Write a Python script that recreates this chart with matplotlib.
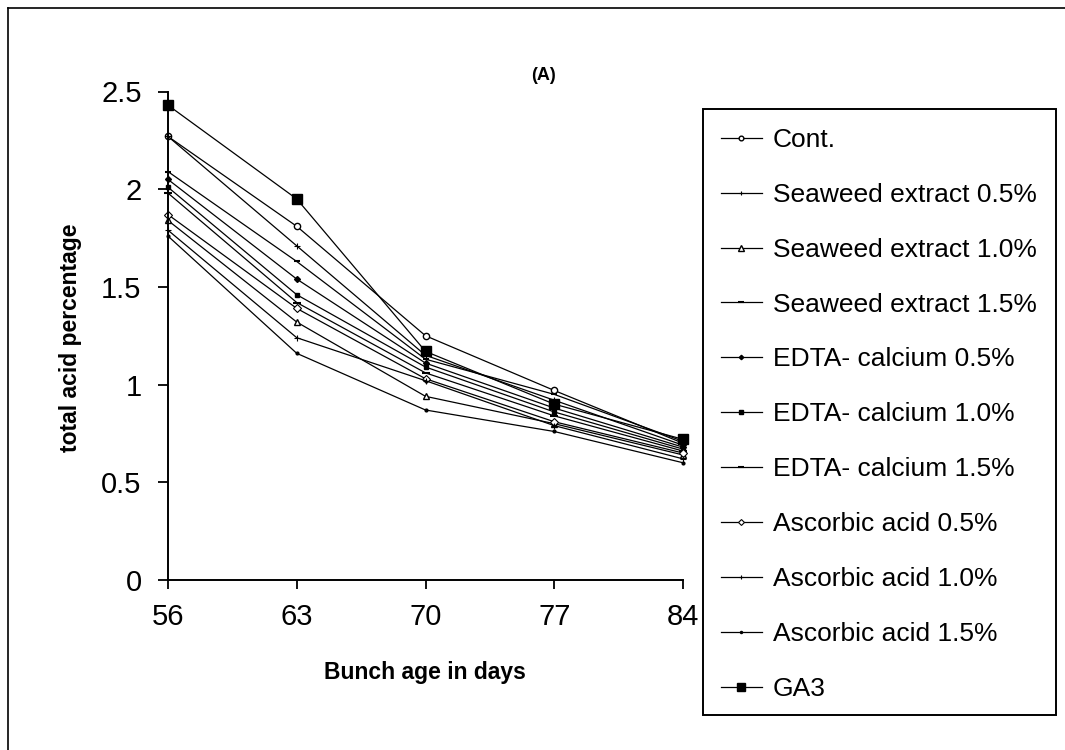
import matplotlib
matplotlib.use("Agg")
import matplotlib.pyplot as plt
from matplotlib.lines import Line2D
from matplotlib.patches import Rectangle

plt.rcParams['font.family'] = ['Liberation Sans', 'DejaVu Sans']

days = [56, 63, 70, 77, 84]
x_ticks = [56, 63, 70, 77, 84]
y_ticks = [0, 0.5, 1, 1.5, 2, 2.5]
y_tick_labels = ["0", "0.5", "1", "1.5", "2", "2.5"]

series_names = [
    "Cont.",
    "Seaweed extract 0.5%",
    "Seaweed extract 1.0%",
    "Seaweed extract 1.5%",
    "EDTA- calcium 0.5%",
    "EDTA- calcium 1.0%",
    "EDTA- calcium 1.5%",
    "Ascorbic acid 0.5%",
    "Ascorbic acid 1.0%",
    "Ascorbic acid 1.5%",
    "GA3",
]

cont = [2.27, 1.81, 1.25, 0.97, 0.70]
seaweed_05 = [2.27, 1.71, 1.15, 0.92, 0.69]
seaweed_10 = [1.84, 1.32, 0.94, 0.80, 0.64]
seaweed_15 = [2.09, 1.63, 1.13, 0.95, 0.71]
edta_05 = [2.05, 1.54, 1.11, 0.88, 0.68]
edta_10 = [2.01, 1.46, 1.09, 0.86, 0.67]
edta_15 = [1.98, 1.42, 1.06, 0.84, 0.66]
ascorbic_05 = [1.87, 1.39, 1.03, 0.81, 0.65]
ascorbic_10 = [1.79, 1.24, 1.02, 0.79, 0.62]
ascorbic_15 = [1.76, 1.16, 0.87, 0.76, 0.60]
ga3 = [2.43, 1.95, 1.17, 0.90, 0.72]

all_series = [cont, seaweed_05, seaweed_10, seaweed_15, edta_05, edta_10,
              edta_15, ascorbic_05, ascorbic_10, ascorbic_15, ga3]

styles = [
    dict(marker='o', ms=4.5, mfc='white', mec='black', mew=1.0),
    dict(marker='+', ms=4, mec='black', mew=0.8),
    dict(marker='^', ms=5, mfc='white', mec='black', mew=1.0),
    dict(marker='_', ms=5, mec='black', mew=1.5),
    dict(marker='D', ms=3, mfc='black', mec='black'),
    dict(marker='s', ms=3, mfc='black', mec='black'),
    dict(marker='_', ms=6, mec='black', mew=1.5),
    dict(marker='D', ms=4, mfc='white', mec='black', mew=0.8),
    dict(marker='+', ms=4, mec='black', mew=0.8),
    dict(marker='.', ms=4, mfc='black', mec='black'),
    dict(marker='s', ms=7, mfc='black', mec='black'),
]

W, H = 1065, 750
fig = plt.figure(figsize=(W / 100, H / 100), dpi=100)
fig.patch.set_facecolor('white')

ax = fig.add_axes([168 / W, 1 - 580 / H, (683 - 168) / W, (580 - 91.5) / H])

handles = []
for vals, name, st in zip(all_series, series_names, styles):
    ln, = ax.plot(days, vals, color='black', lw=0.9, clip_on=False, label=name, **st)
    handles.append(ln)

ax.set_xlim(56, 84)
ax.set_ylim(0, 2.5)
ax.set_xticks(x_ticks)
ax.set_xticklabels([str(v) for v in x_ticks])
ax.set_yticks(y_ticks)
ax.set_yticklabels(y_tick_labels)
for s in ['top', 'right']:
    ax.spines[s].set_visible(False)
for s in ['left', 'bottom']:
    ax.spines[s].set_linewidth(1.4)
ax.tick_params(axis='y', direction='out', length=7, width=1.3, pad=12, labelsize=21)
ax.tick_params(axis='x', direction='out', length=6.5, width=1.3, pad=10, labelsize=21)

fig.text(425 / W, 1 - 673 / H, "Bunch age in days", ha='center', va='center',
         fontsize=16.5, fontweight='bold')
fig.text(70 / W, 1 - 338 / H, "total acid percentage", ha='center', va='center',
         rotation=90, fontsize=16.5, fontweight='bold')
fig.text(543 / W, 1 - 75 / H, "(A)", ha='center', va='center',
         fontsize=13, fontweight='bold')

# legend box
fig.patches.append(Rectangle((703 / W, 1 - 715 / H), (1056 - 703) / W, (715 - 109) / H,
                             transform=fig.transFigure, fill=False, ec='black', lw=1.4))
leg = fig.legend(handles=handles, loc='upper left',
                 bbox_to_anchor=(721 / W, 1 - 128 / H), frameon=False,
                 fontsize=19, handlelength=1.55, handletextpad=0.42,
                 labelspacing=1.17, borderaxespad=0, borderpad=0, markerscale=0.75)

# outer frame (left and top edges)
fig.lines.append(Line2D([8 / W, 8 / W], [0, 1 - 8 / H], transform=fig.transFigure,
                        color='black', lw=1.2))
fig.lines.append(Line2D([8 / W, 1], [1 - 8 / H, 1 - 8 / H], transform=fig.transFigure,
                        color='black', lw=1.2))

fig.savefig("out.png", dpi=100, facecolor='white')
